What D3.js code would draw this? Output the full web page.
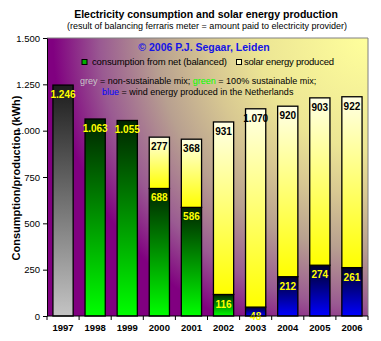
<!DOCTYPE html>
<html><head><meta charset="utf-8">
<script src="https://cdn.jsdelivr.net/npm/d3@7"></script>
<style>body{margin:0;background:#fff}svg{display:block}text{font-family:"Liberation Sans",Arial,sans-serif}</style>
</head><body><div id="c"></div>
<script>
const years = ["1997","1998","1999","2000","2001","2002","2003","2004","2005","2006"];
const consumption = [1246,1063,1055,688,586,116,48,212,274,261];
const solar = [0,0,0,277,368,931,1070,920,903,922];
const mixType = ["grey","green","green","green","green","green","blue","blue","blue","blue"];
const yTicks = [0,250,500,750,1000,1250,1500];

const W=381,H=341;
const svg=d3.select("#c").append("svg").attr("width",W).attr("height",H);
const defs=svg.append("defs");
const L=47,R=368,T=38,B=316;
const x=d3.scaleBand().domain(years).range([L,R]).paddingInner(0.37).paddingOuter(0.185);
const y=d3.scaleLinear().domain([0,1500]).range([B,T]);
const fmt=v=>d3.format(",")(v).replace(/,/g,".");

// background gradient
const rg=defs.append("radialGradient").attr("id","bg").attr("gradientUnits","userSpaceOnUse")
 .attr("cx",R).attr("cy",T).attr("r",315);
[[0,"#ffff9c"],[0.35,"#ece594"],[0.5,"#d8c892"],[0.67,"#b8a090"],[0.85,"#9a5a92"],[1,"#800080"]]
 .forEach(([o,c])=>rg.append("stop").attr("offset",o).attr("stop-color",c));
function lin(id,top,bot){const g=defs.append("linearGradient").attr("id",id).attr("x1",0).attr("y1",0).attr("x2",0).attr("y2",1);
 g.append("stop").attr("offset",0).attr("stop-color",top);g.append("stop").attr("offset",1).attr("stop-color",bot);}
lin("grey","#1c1c1c","#c4c4c4");
lin("green","#002400","#00ff00");
lin("blue","#000028","#0000ff");
lin("yellow","#ffffe6","#ffff00");

svg.append("rect").attr("x",L).attr("y",T).attr("width",R-L).attr("height",B-T).attr("fill","url(#bg)");
svg.append("path").attr("d",`M${L},${T}H${R}V${B}`).attr("fill","none").attr("stroke","#808080");

// titles
svg.append("text").attr("x",206).attr("y",18).attr("text-anchor","middle").attr("font-size",10.5).attr("font-weight","bold").text("Electricity consumption and solar energy production");
svg.append("text").attr("x",207).attr("y",29).attr("text-anchor","middle").attr("font-size",9).text("(result of balancing ferraris meter = amount paid to electricity provider)");
svg.append("text").attr("x",204).attr("y",51).attr("text-anchor","middle").attr("font-size",10.5).attr("font-weight","bold").attr("fill","#1414e6").text("\u00a9 2006 P.J. Segaar, Leiden");

// legend
svg.append("rect").attr("x",82).attr("y",59.5).attr("width",5).attr("height",5).attr("fill","#00b000").attr("stroke","#000");
svg.append("text").attr("x",92).attr("y",65).attr("font-size",9.5).attr("textLength",135).attr("lengthAdjust","spacing").text("consumption from net (balanced)");
svg.append("rect").attr("x",236.5).attr("y",59.5).attr("width",5).attr("height",5).attr("fill","#ffffc8").attr("stroke","#000");
svg.append("text").attr("x",244).attr("y",65).attr("font-size",9.5).attr("textLength",90).attr("lengthAdjust","spacing").text("solar energy produced");
const l2=svg.append("text").attr("x",80).attr("y",84).attr("font-size",9);
l2.append("tspan").attr("fill","#c8c8c8").text("grey");
l2.append("tspan").text(" = non-sustainable mix; ");
l2.append("tspan").attr("fill","#00ff00").text("green");
l2.append("tspan").text(" = 100%  sustainable mix;");
const l3=svg.append("text").attr("x",102).attr("y",94.5).attr("font-size",9);
l3.append("tspan").attr("fill","#0000ff").text("blue");
l3.append("tspan").text(" = wind energy produced in the Netherlands");

// bars
const g=svg.append("g");
years.forEach((yr,i)=>{
  const c=consumption[i], s=solar[i];
  g.append("rect").attr("x",x(yr)).attr("y",y(c)).attr("width",x.bandwidth()).attr("height",y(0)-y(c))
   .attr("fill",`url(#${mixType[i]})`).attr("stroke","#000").attr("stroke-width",1.3);
  if(s>0){
    g.append("rect").attr("x",x(yr)).attr("y",y(c+s)).attr("width",x.bandwidth()).attr("height",y(c)-y(c+s))
     .attr("fill","url(#yellow)").attr("stroke","#000").attr("stroke-width",1.3);
  }
});
years.forEach((yr,i)=>{
  const c=consumption[i], s=solar[i], cx=x(yr)+x.bandwidth()/2;
  g.append("text").attr("x",cx).attr("y",y(c)+13).attr("text-anchor","middle").attr("font-size",10).attr("font-weight","bold").attr("fill","#ffff00").text(fmt(c));
  if(s>0) g.append("text").attr("x",cx).attr("y",y(c+s)+13).attr("text-anchor","middle").attr("font-size",10).attr("font-weight","bold").attr("fill","#000").text(fmt(s));
});

// axes
const ya=svg.append("g").attr("transform",`translate(${L},0)`).call(d3.axisLeft(y).tickValues(yTicks).tickSize(4).tickSizeOuter(0).tickFormat(fmt));
ya.select(".domain").attr("stroke","#000");
ya.selectAll("text").attr("font-size",9.5).attr("font-family","Liberation Sans, Arial, sans-serif").attr("fill","#000");
const xa=svg.append("g").attr("transform",`translate(0,${B})`).call(d3.axisBottom(x).tickSize(0).tickPadding(8));
xa.select(".domain").attr("d",`M${L},0H${R}`).attr("stroke","#000");
xa.selectAll("text").attr("font-size",9.5).attr("font-weight","bold").attr("font-family","Liberation Sans, Arial, sans-serif").attr("fill","#000");
const bounds=years.map((d,i)=>L+(R-L)/years.length*(i+1));
svg.append("g").selectAll("line").data([L].concat(bounds)).join("line").attr("x1",d=>d).attr("x2",d=>d).attr("y1",B).attr("y2",B+4).attr("stroke","#000");

svg.append("text").attr("transform",`translate(20,${(T+B)/2+1}) rotate(-90)`).attr("text-anchor","middle").attr("font-size",11).attr("font-weight","bold").text("Consumption/production (kWh)");
</script></body></html>
